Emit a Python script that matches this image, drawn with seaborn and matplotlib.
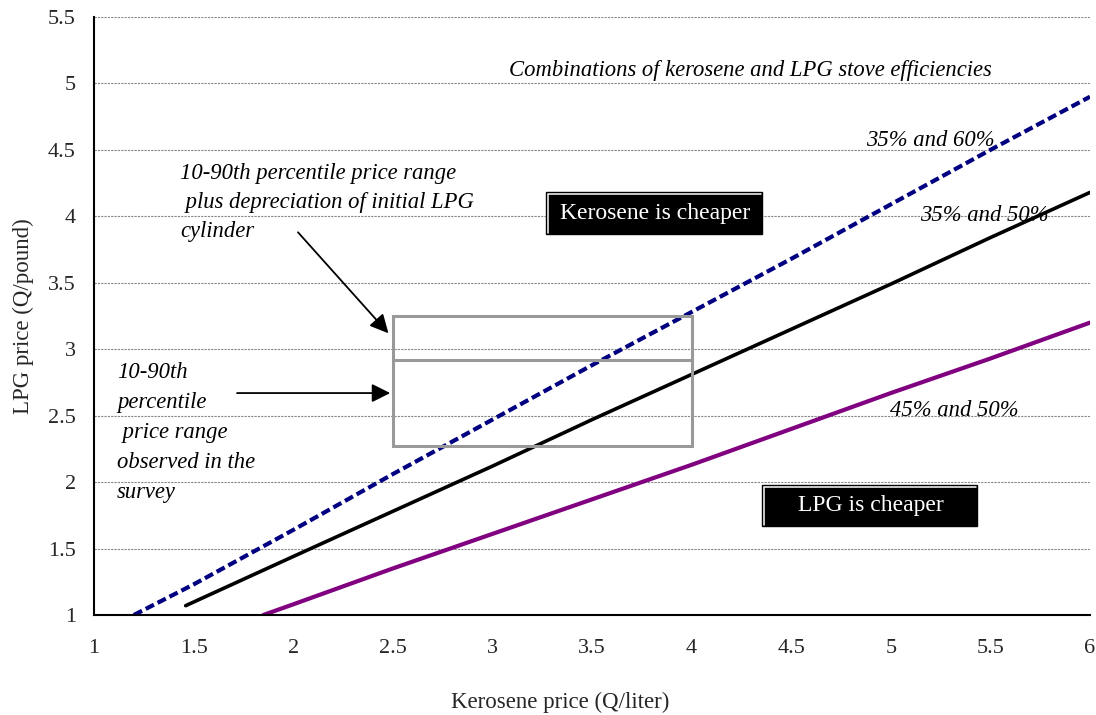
import pandas as pd
import seaborn as sns
import numpy as np
import matplotlib.pyplot as plt
from matplotlib.patches import Rectangle

# values
kero_60 = [1.2, 1.5, 2.0, 2.5, 3.0, 3.5, 4.0, 4.5, 5.0, 5.5, 6.0]
lpg_60 = [1.0, 1.23, 1.64, 2.06, 2.47, 2.88, 3.28, 3.68, 4.09, 4.50, 4.90]

kero_50 = [1.46, 2.0, 2.5, 3.0, 3.5, 4.0, 4.5, 5.0, 5.5, 6.0]
lpg_50 = [1.07, 1.44, 1.78, 2.12, 2.47, 2.81, 3.15, 3.49, 3.84, 4.18]

kero_45 = [1.85, 2.0, 2.5, 3.0, 3.5, 4.0, 4.5, 5.0, 5.5, 6.0]
lpg_45 = [1.0, 1.08, 1.35, 1.61, 1.87, 2.13, 2.40, 2.67, 2.93, 3.20]

# 10-90th percentile price range box
box_x = [2.5, 4.0]
box_survey = [2.27, 2.92]
box_with_cyl = 3.25

sns.set_style("white")
plt.rcParams['font.family'] = ['Liberation Serif', 'DejaVu Serif']
FS = 16.3

fig, ax = plt.subplots(figsize=(10.96, 7.15), dpi=100)
fig.subplots_adjust(left=0.0858, right=0.9945, top=0.9762, bottom=0.1399)

df60 = pd.DataFrame({'x': kero_60, 'y': lpg_60})
df50 = pd.DataFrame({'x': kero_50, 'y': lpg_50})
df45 = pd.DataFrame({'x': kero_45, 'y': lpg_45})

sns.lineplot(data=df60, x='x', y='y', ax=ax, color='#000080', lw=3,
             linestyle=(0, (2.2, 1.0)), sort=False)
sns.lineplot(data=df50, x='x', y='y', ax=ax, color='black', lw=2.6, sort=False)
sns.lineplot(data=df45, x='x', y='y', ax=ax, color='#800080', lw=3, sort=False)

# price range box
ax.add_patch(Rectangle((box_x[0], box_survey[0]), box_x[1] - box_x[0],
                       box_with_cyl - box_survey[0], fill=False,
                       ec='#999999', lw=2.2, zorder=4))
ax.plot(box_x, [box_survey[1], box_survey[1]], color='#999999', lw=2.2, zorder=4)

ax.set_xlim(1, 6)
ax.set_ylim(1, 5.5)
ax.set_xticks(np.arange(1, 6.01, 0.5))
ax.set_yticks(np.arange(1, 5.51, 0.5))
ax.set_xticklabels(['1', '1.5', '2', '2.5', '3', '3.5', '4', '4.5', '5', '5.5', '6'])
ax.set_yticklabels(['1', '1.5', '2', '2.5', '3', '3.5', '4', '4.5', '5', '5.5'])
ax.yaxis.grid(True, color='#888888', lw=0.8, linestyle=(0, (2, 1)))
ax.xaxis.grid(False)

for s in ['top', 'right']:
    ax.spines[s].set_visible(False)
for s in ['left', 'bottom']:
    ax.spines[s].set_color('black')
    ax.spines[s].set_linewidth(1.5)
ax.tick_params(axis='both', direction='out', length=5, width=1.5,
               color='black', labelsize=16, pad=12)
ax.tick_params(axis='y', pad=8)

ax.set_xlabel('Kerosene price (Q/liter)', fontsize=16.5)
ax.set_ylabel('LPG price (Q/pound)', fontsize=16.5)
ax.xaxis.set_label_coords(0.468, -0.128)
ax.yaxis.set_label_coords(-0.060, 0.5)

it = dict(fontsize=FS, style='italic', color='black')
ax.text(4.293, 5.10, 'Combinations of kerosene and LPG stove efficiencies',
        ha='center', va='center', **it)
ax.text(4.876, 4.574, '35% and 60%', ha='left', va='center', **it)
ax.text(5.147, 4.01, '35% and 50%', ha='left', va='center', **it)
ax.text(4.996, 2.54, '45% and 50%', ha='left', va='center', **it)
ax.text(1.432, 4.40, '10-90th percentile price range\n plus depreciation of initial LPG\ncylinder',
        ha='left', va='top', linespacing=1.5, **it)
ax.text(1.115, 2.907, '10-90th\npercentile\n price range\nobserved in the\nsurvey',
        ha='left', va='top', linespacing=1.57, **it)

arrow = dict(arrowstyle='-|>', mutation_scale=28, lw=1.3, color='black',
             shrinkA=0, shrinkB=0)
ax.annotate('', xy=(2.478, 3.12), xytext=(2.024, 3.88), arrowprops=arrow)
ax.annotate('', xy=(2.487, 2.67), xytext=(1.718, 2.67), arrowprops=arrow)

# black label boxes, white bevel line along top and left
for (x0, y0, w, h, label) in [(3.269, 3.867, 1.084, 0.316, 'Kerosene is cheaper'),
                              (4.353, 1.670, 1.080, 0.308, 'LPG is cheaper')]:
    ax.add_patch(Rectangle((x0, y0), w, h, fc='black', ec='black', lw=1, zorder=5))
    dx, dy = 0.012, 0.016
    ax.plot([x0 + dx, x0 + dx, x0 + w - 0.004], [y0 + 0.006, y0 + h - dy, y0 + h - dy],
            color='white', lw=1.1, zorder=6, solid_joinstyle='miter')
    ax.text(x0 + w / 2 + 0.005, y0 + h / 2, label, color='white', fontsize=17,
            ha='center', va='center', zorder=7)

fig.savefig('out.png', dpi=100)
